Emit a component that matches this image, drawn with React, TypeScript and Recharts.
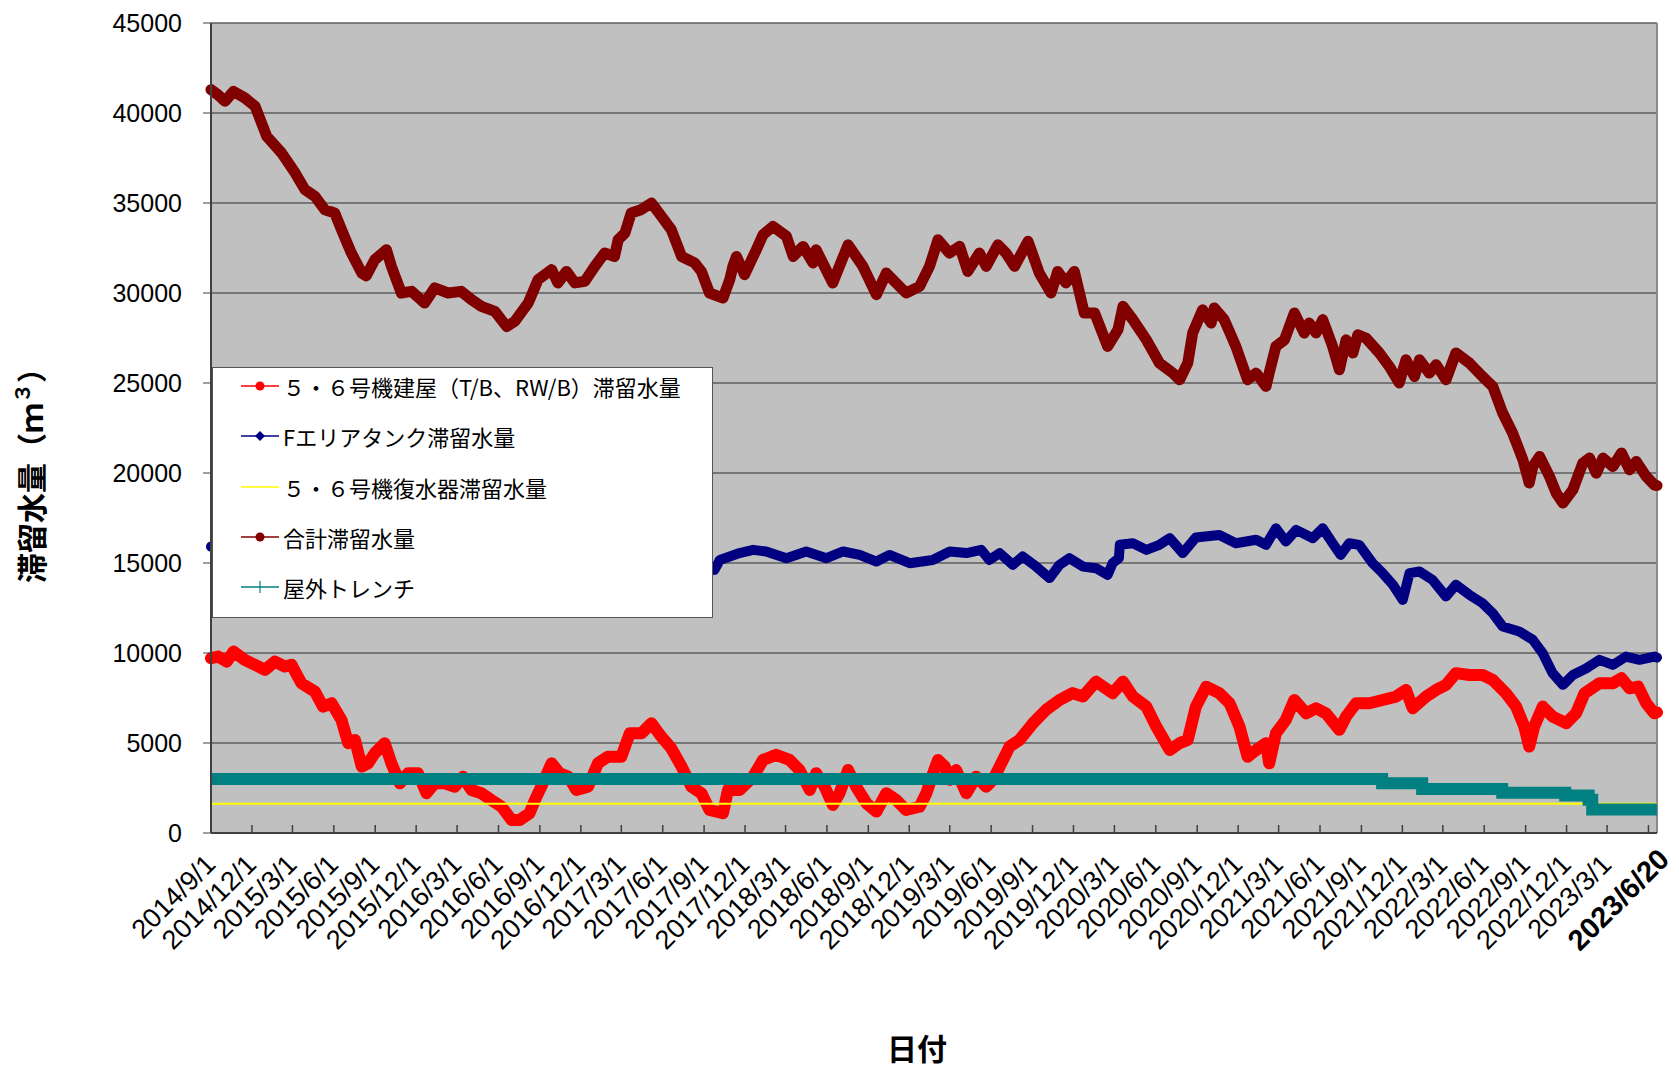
import React from 'react'
import { LineChart, Line, XAxis, YAxis, CartesianGrid, ReferenceLine, Legend, Label } from 'recharts'

// days counted from 2014/9/1
const START = Date.UTC(2014, 8, 1)
const dayOf = (s: string) => {
  const [y, m, d] = s.split('/').map(Number)
  return Math.round((Date.UTC(y, m - 1, d) - START) / 86400000)
}

const tickLabels = [
  '2014/9/1', '2014/12/1', '2015/3/1', '2015/6/1', '2015/9/1', '2015/12/1',
  '2016/3/1', '2016/6/1', '2016/9/1', '2016/12/1', '2017/3/1', '2017/6/1',
  '2017/9/1', '2017/12/1', '2018/3/1', '2018/6/1', '2018/9/1', '2018/12/1',
  '2019/3/1', '2019/6/1', '2019/9/1', '2019/12/1', '2020/3/1', '2020/6/1',
  '2020/9/1', '2020/12/1', '2021/3/1', '2021/6/1', '2021/9/1', '2021/12/1',
  '2022/3/1', '2022/6/1', '2022/9/1', '2022/12/1', '2023/3/1', '2023/6/1',
  '2023/6/20',
]
const lastLabel = '2023/6/20'
const hiddenLabel = '2023/6/1'
const yTicks = [0, 5000, 10000, 15000, 20000, 25000, 30000, 35000, 40000, 45000]

const seriesNames = [
  '５・６号機建屋（T/B、RW/B）滞留水量',
  'Fエリアタンク滞留水量',
  '５・６号機復水器滞留水量',
  '合計滞留水量',
  '屋外トレンチ',
]
const seriesColors = ['#ff0000', '#000080', '#ffff00', '#800000', '#008080']

// 5・6号機建屋
const bldgDays = [0, 16, 35, 50, 75, 98, 120, 142, 164, 179, 201, 231, 249, 268, 290, 305, 320, 335, 349, 364, 386, 401, 420, 438, 460, 479, 497, 520, 542, 560, 579, 601, 623, 646, 668, 686, 708, 720, 734, 757, 775, 794, 812, 838, 860, 882, 912, 931, 957, 979, 1001, 1023, 1046, 1068, 1090, 1108, 1138, 1149, 1175, 1205, 1227, 1256, 1286, 1308, 1331, 1345, 1364, 1382, 1397, 1416, 1434, 1457, 1479, 1501, 1523, 1545, 1575, 1590, 1605, 1616, 1631, 1642, 1656, 1679, 1701, 1723, 1738, 1753, 1775, 1797, 1827, 1856, 1886, 1915, 1938, 1967, 2004, 2027, 2049, 2079, 2101, 2131, 2153, 2171, 2189, 2212, 2241, 2264, 2286, 2304, 2323, 2345, 2352, 2367, 2389, 2408, 2434, 2456, 2478, 2508, 2523, 2545, 2575, 2604, 2634, 2656, 2671, 2701, 2723, 2745, 2767, 2797, 2826, 2849, 2878, 2901, 2919, 2930, 2941, 2960, 2982, 3012, 3034, 3053, 3086, 3116, 3135, 3153, 3172, 3190, 3208, 3214]
const bldgVals = [9710, 9800, 9520, 10080, 9620, 9340, 9060, 9520, 9250, 9340, 8320, 7850, 7020, 7210, 6280, 4990, 5170, 3690, 3870, 4430, 4990, 3870, 2760, 3320, 3320, 2210, 2760, 2760, 2570, 3130, 2390, 2210, 1830, 1460, 720, 720, 1100, 1830, 2570, 3870, 3320, 3130, 2390, 2570, 3870, 4240, 4240, 5540, 5540, 6100, 5350, 4710, 3690, 2570, 2210, 1280, 1100, 2390, 2390, 3130, 4060, 4340, 4060, 3500, 2390, 3320, 2570, 1560, 2210, 3500, 2570, 1650, 1190, 2210, 1830, 1280, 1460, 2210, 3320, 4060, 3690, 2950, 3500, 2210, 3130, 2570, 2950, 3690, 4800, 5170, 6100, 6840, 7390, 7770, 7580, 8410, 7770, 8410, 7580, 7020, 5910, 4610, 4990, 5170, 7020, 8130, 7770, 7210, 5910, 4240, 4610, 4990, 3870, 5540, 6280, 7390, 6650, 6930, 6650, 5730, 6470, 7210, 7210, 7390, 7580, 7950, 6930, 7580, 7950, 8230, 8880, 8780, 8780, 8500, 7770, 7020, 5910, 4800, 5910, 7020, 6470, 6100, 6650, 7770, 8320, 8320, 8600, 8040, 8130, 7210, 6650, 6700]

// Fエリアタンク
const tankDays = [0, 120, 300, 500, 700, 900, 1050, 1119, 1131, 1175, 1205, 1234, 1279, 1323, 1368, 1405, 1442, 1479, 1508, 1553, 1604, 1642, 1679, 1712, 1730, 1753, 1782, 1804, 1834, 1864, 1886, 1908, 1938, 1967, 1993, 2004, 2018, 2020, 2049, 2079, 2108, 2131, 2160, 2189, 2241, 2278, 2323, 2345, 2367, 2389, 2412, 2449, 2471, 2493, 2511, 2530, 2552, 2582, 2604, 2627, 2649, 2664, 2686, 2715, 2745, 2767, 2797, 2826, 2849, 2871, 2908, 2938, 2960, 2982, 3005, 3027, 3057, 3086, 3116, 3145, 3175, 3208, 3214]
const tankVals = [15910, 15700, 15600, 15500, 15300, 15200, 15000, 14620, 15170, 15550, 15730, 15640, 15270, 15640, 15270, 15640, 15450, 15080, 15450, 14990, 15170, 15640, 15550, 15730, 15170, 15550, 14900, 15360, 14800, 14160, 14900, 15270, 14800, 14710, 14340, 14990, 15270, 16010, 16100, 15730, 16010, 16380, 15550, 16420, 16560, 16100, 16290, 16010, 16930, 16190, 16840, 16380, 16930, 16100, 15450, 16100, 16010, 14990, 14440, 13790, 12950, 14440, 14530, 14060, 13140, 13790, 13230, 12770, 12210, 11470, 11190, 10730, 9990, 8880, 8230, 8780, 9150, 9620, 9340, 9800, 9620, 9800, 9750]

// 5・6号機復水器
const condDays = [0, 3214]
const condVals = [1620, 1620]

// 合計
const totalDays = [0, 16, 31, 50, 75, 98, 124, 157, 187, 209, 231, 253, 275, 290, 312, 335, 345, 364, 390, 401, 423, 446, 475, 497, 527, 556, 579, 601, 631, 657, 675, 705, 727, 757, 771, 790, 809, 831, 853, 875, 897, 905, 920, 934, 956, 979, 1001, 1023, 1046, 1075, 1090, 1108, 1138, 1153, 1160, 1168, 1186, 1212, 1227, 1249, 1279, 1294, 1316, 1338, 1345, 1382, 1416, 1449, 1479, 1501, 1545, 1575, 1597, 1616, 1641, 1664, 1682, 1708, 1723, 1749, 1767, 1786, 1816, 1841, 1867, 1882, 1900, 1919, 1941, 1964, 1993, 2016, 2027, 2049, 2079, 2108, 2138, 2153, 2171, 2182, 2204, 2223, 2230, 2252, 2278, 2304, 2323, 2345, 2352, 2367, 2386, 2408, 2430, 2441, 2456, 2471, 2493, 2508, 2523, 2538, 2549, 2567, 2597, 2619, 2641, 2656, 2675, 2686, 2708, 2723, 2745, 2767, 2797, 2826, 2849, 2871, 2893, 2916, 2930, 2938, 2953, 2975, 2990, 3005, 3027, 3049, 3064, 3079, 3094, 3116, 3135, 3153, 3168, 3190, 3208, 3214]
const totalVals = [41300, 41000, 40650, 41200, 40840, 40370, 38700, 37780, 36670, 35740, 35370, 34630, 34450, 33520, 32220, 31110, 30950, 31850, 32400, 31480, 30000, 30090, 29440, 30280, 30000, 30090, 29630, 29260, 28980, 28140, 28420, 29440, 30740, 31300, 30560, 31200, 30560, 30650, 31480, 32220, 32030, 32960, 33330, 34450, 34630, 35000, 34260, 33520, 32030, 31670, 31200, 30000, 29720, 30740, 31480, 32030, 31020, 32400, 33240, 33700, 33150, 32030, 32590, 31670, 32400, 30560, 32680, 31480, 29910, 31110, 30000, 30370, 31480, 32960, 32220, 32590, 31200, 32220, 31480, 32680, 32220, 31480, 32870, 31110, 30000, 31200, 30560, 31200, 28890, 28890, 27030, 27960, 29260, 28520, 27400, 26110, 25550, 25180, 26110, 27780, 29070, 28330, 29170, 28520, 27030, 25180, 25550, 24810, 25550, 27030, 27400, 28890, 27780, 28330, 27780, 28520, 27030, 25740, 27400, 26670, 27680, 27500, 26670, 25920, 25000, 26290, 25360, 26290, 25550, 26010, 25180, 26670, 26110, 25360, 24810, 23330, 22220, 20730, 19440, 20360, 20920, 19810, 18880, 18330, 19070, 20550, 20830, 19990, 20830, 20360, 21110, 20180, 20640, 19810, 19340, 19300]

// 屋外トレンチ (step values)
const trenchDays = [0, 2603, 2692, 2870, 3010, 3062, 3070, 3214]
const trenchVals = [3000, 2760, 2440, 2240, 2080, 1850, 1300, 1300]

const rows = (days: number[], vals: number[]) => days.map((d, i) => ({ d, v: vals[i] }))

const END = dayOf(lastLabel)
const tickDays = tickLabels.map(dayOf)

const XTick = (props: any) => {
  const { x, y, payload } = props
  const label = tickLabels[tickDays.indexOf(payload.value)]
  if (label === lastLabel) {
    return (
      <text x={x + 14} y={y + 28} transform={`rotate(-45, ${x + 14}, ${y + 28})`} textAnchor="end"
        fontFamily="Liberation Sans, Arial, sans-serif" fontSize={29} fontWeight="bold" fill="#000">
        {label}
      </text>
    )
  }
  return (
    <g>
      <line x1={x} y1={y - 8} x2={x} y2={y} stroke="#404040" strokeWidth={1.5} />
      {label !== hiddenLabel && (
        <text x={x + 6} y={y + 33} transform={`rotate(-45, ${x + 6}, ${y + 33})`} textAnchor="end"
          fontFamily="Liberation Sans, Arial, sans-serif" fontSize={27} fill="#000">
          {label}
        </text>
      )}
    </g>
  )
}

const Icon = ({ i }: { i: number }) => {
  const c = seriesColors[i]
  return (
    <svg width={44} height={20} style={{ display: 'block' }}>
      <line x1={2} y1={10} x2={40} y2={10} stroke={c} strokeWidth={1.5} />
      {(i === 0 || i === 3) && <circle cx={21} cy={10} r={4.5} fill={c} />}
      {i === 1 && <path d="M21 5 L26 10 L21 15 L16 10 Z" fill={c} />}
      {i === 4 && <path d="M21 4 V16" stroke={c} strokeWidth={1.2} />}
    </svg>
  )
}

const renderLegend = () => (
  <div style={{
    width: 501, height: 251, boxSizing: 'border-box', background: '#fff', border: '1.5px solid #555',
    position: 'relative', fontFamily: '"Noto Sans CJK JP", sans-serif', fontSize: 22, color: '#000',
  }}>
    {seriesNames.map((name, i) => (
      <div key={name} style={{ position: 'absolute', left: 26, top: 2 + i * 50.3, height: 32, display: 'flex', alignItems: 'center', whiteSpace: 'nowrap' }}>
        <Icon i={i} />
        <span>{name}</span>
      </div>
    ))}
  </div>
)

const App: React.FC = () => {
  return (
    <div style={{ width: 1670, height: 1060, background: '#fff' }}>
      <LineChart width={1670} height={1060} margin={{ top: 15, right: 21, bottom: 0, left: 103 }}>
        <CartesianGrid vertical={false} fill="#c0c0c0" stroke="#5e5e5e" strokeWidth={1.5} />
        <XAxis type="number" dataKey="d" domain={[0, END]} ticks={tickDays} interval={0}
          height={235} tickSize={0} tickMargin={0} tickLine={false} tick={<XTick />}
          axisLine={{ stroke: '#404040', strokeWidth: 2 }}>
          <Label content={() => (
            <text x={909} y={1052} textAnchor="middle" fontFamily='"Noto Sans CJK JP", sans-serif'
              fontSize={30} fontWeight="bold" fill="#000">日付</text>
          )} />
        </XAxis>
        <YAxis type="number" domain={[0, 45000]} ticks={yTicks} interval={0} width={100}
          tickSize={8} tickMargin={21} tickLine={{ stroke: '#404040' }}
          axisLine={{ stroke: '#404040', strokeWidth: 2 }}
          tick={{ fill: '#000', fontSize: 25, fontFamily: 'Liberation Sans, Arial, sans-serif' }}>
          <Label content={() => (
            <text x={22} y={460} transform="rotate(-90, 22, 460)" textAnchor="middle" dominantBaseline="central"
              fontFamily='"Noto Sans CJK JP", sans-serif' fontSize={30} fontWeight="bold" fill="#000">
              滞留水量（ｍ<tspan fontSize={20} dy={-9}>３</tspan><tspan dy={9}>）</tspan>
            </text>
          )} />
        </YAxis>
        <ReferenceLine x={END} stroke="#8a8a8a" strokeWidth={2} />
        <Line data={rows(bldgDays, bldgVals)} dataKey="v" name={seriesNames[0]} type="linear" stroke={seriesColors[0]}
          strokeWidth={12} strokeLinejoin="round" strokeLinecap="round" dot={false} activeDot={false} isAnimationActive={false} />
        <Line data={rows(tankDays, tankVals)} dataKey="v" name={seriesNames[1]} type="linear" stroke={seriesColors[1]}
          strokeWidth={10} strokeLinejoin="round" strokeLinecap="round" dot={false} activeDot={false} isAnimationActive={false} />
        <Line data={rows(condDays, condVals)} dataKey="v" name={seriesNames[2]} type="linear" stroke={seriesColors[2]}
          strokeWidth={2} dot={false} activeDot={false} isAnimationActive={false} />
        <Line data={rows(totalDays, totalVals)} dataKey="v" name={seriesNames[3]} type="linear" stroke={seriesColors[3]}
          strokeWidth={11} strokeLinejoin="round" strokeLinecap="round" dot={false} activeDot={false} isAnimationActive={false} />
        <Line data={rows(trenchDays, trenchVals)} dataKey="v" name={seriesNames[4]} type="stepAfter" stroke={seriesColors[4]}
          strokeWidth={12} dot={false} activeDot={false} isAnimationActive={false} />
        <Legend layout="vertical" align="center" verticalAlign="middle" content={renderLegend}
          wrapperStyle={{ left: 204, top: 359, width: 501, height: 251 }} />
      </LineChart>
    </div>
  )
}

export default App
